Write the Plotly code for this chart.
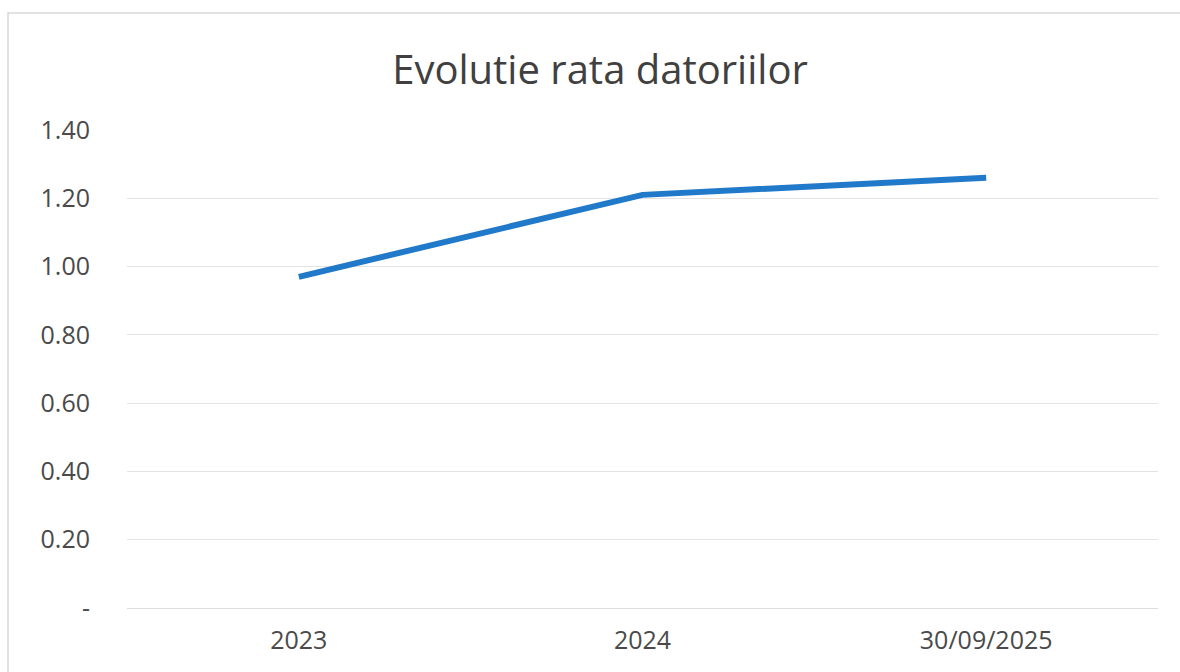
import plotly.graph_objects as go

categories = ["2023", "2024", "30/09/2025"]
values = [0.97, 1.21, 1.26]
tick_vals = [0, 0.2, 0.4, 0.6, 0.8, 1.0, 1.2, 1.4]
tick_text = ["-", "0.20", "0.40", "0.60", "0.80", "1.00", "1.20", "1.40"]

W, H = 1180, 672
L, R, T, B = 127, 22, 130, 64
pw, ph = W - L - R, H - T - B

fig = go.Figure()
fig.add_trace(go.Scatter(
    x=categories, y=values, mode="lines",
    line=dict(color="#2079c9", width=6),
    hoverinfo="x+y", showlegend=False,
))

font_fam = "Open Sans, Liberation Sans, sans-serif"
fig.update_layout(
    width=W, height=H,
    margin=dict(l=L, r=R, t=T, b=B),
    paper_bgcolor="white", plot_bgcolor="white",
    title=dict(text="Evolutie rata datoriilor", x=600 / W, xanchor="center",
               y=1 - 70 / H, yanchor="middle",
               font=dict(family=font_fam, size=40, color="#404040")),
    font=dict(family=font_fam, color="#4a4a4a"),
    xaxis=dict(
        type="category", range=[-0.5, 2.5],
        showgrid=False, showline=False, zeroline=False,
        ticks="outside", ticklen=10, tickcolor="rgba(0,0,0,0)",
        tickfont=dict(size=25, color="#4a4a4a"),
    ),
    yaxis=dict(
        range=[0, 1.4], tickvals=tick_vals, ticktext=tick_text,
        showgrid=True, gridcolor="#e3e3e3", gridwidth=1,
        zeroline=True, zerolinecolor="#dcdcdc", zerolinewidth=1,
        showline=False,
        ticks="outside", ticklen=31, tickcolor="rgba(0,0,0,0)",
        tickfont=dict(size=25, color="#4a4a4a"),
    ),
)

# chart area border (light gray frame)
fig.add_shape(
    type="rect", xref="paper", yref="paper",
    x0=(8 - L) / pw, x1=(W + 20 - L) / pw,
    y0=(H - B - (H + 20)) / ph, y1=(H - B - 13) / ph,
    line=dict(color="#d9d9d9", width=1.5), fillcolor="rgba(0,0,0,0)",
    layer="below",
)

fig.write_html("out.html")
